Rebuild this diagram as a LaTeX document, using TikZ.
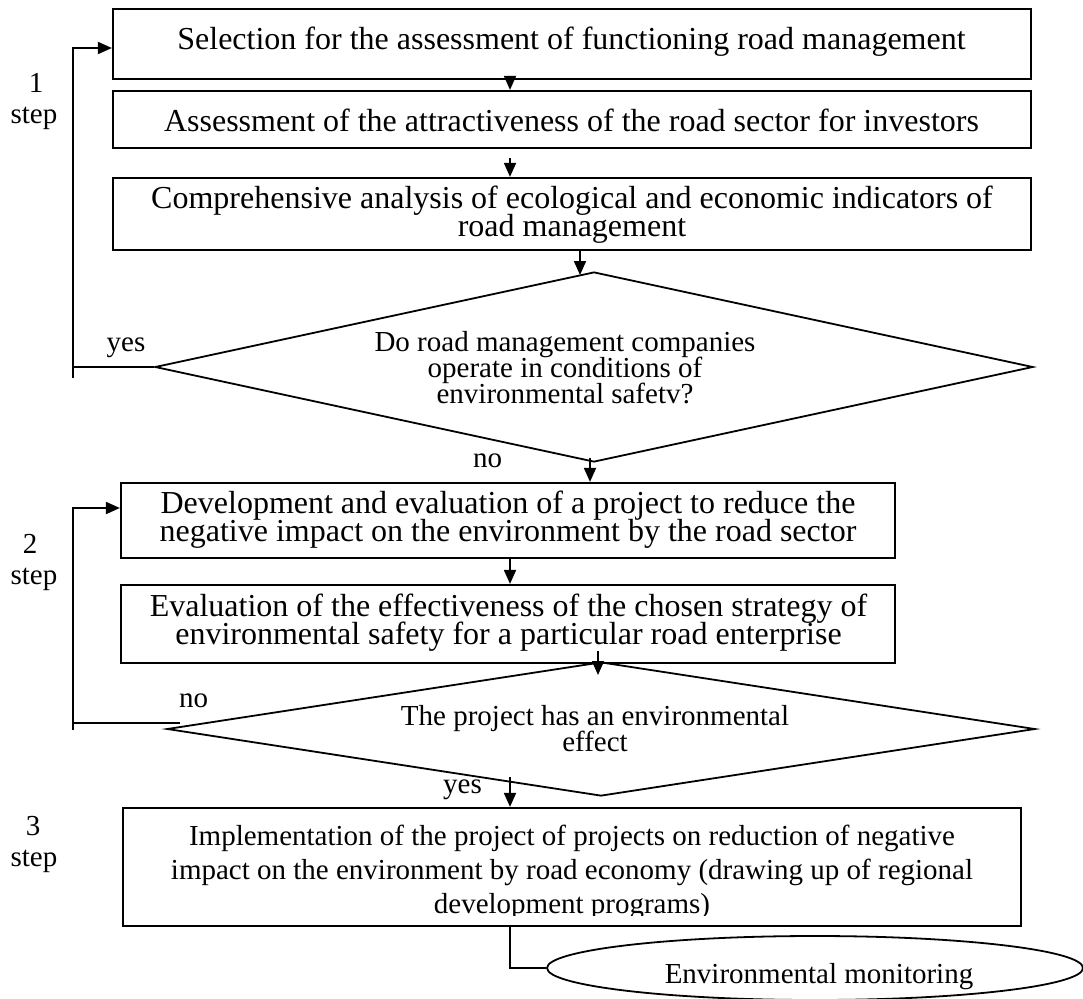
\documentclass[tikz,border=0pt]{standalone}
\usepackage{fontspec}
\setmainfont{Liberation Serif}
\usetikzlibrary{shapes.geometric,arrows.meta}
\begin{document}
\begin{tikzpicture}[x=1pt,y=-1pt,
  box/.style={draw, line width=2.2pt, inner sep=0pt},
  diam/.style={draw, diamond, line width=1.8pt, inner sep=0pt},
  oval/.style={draw, ellipse, line width=1.8pt, inner sep=0pt},
  bigtext/.style={anchor=base, align=center, inner sep=0pt,
    font={\fontsize{32}{28}\selectfont\lineskiplimit=-100pt\lineskip=0pt}},
  midtext/.style={anchor=base, align=center, inner sep=0pt,
    font={\fontsize{29}{26}\selectfont\lineskiplimit=-100pt\lineskip=0pt}},
  lbl/.style={anchor=base, inner sep=0pt, font={\fontsize{29}{30}\selectfont}},
  ln/.style={line width=1.8pt},
  arr/.style={line width=1.8pt, -{Triangle[length=14pt,width=12pt]}}
]
\clip (0,0) rectangle (1083,998);
\fill[white] (0,0) rectangle (1083,998);

% column helpers
\coordinate (c510) at (510,0);
\coordinate (c580) at (580,0);
\coordinate (c590) at (590,0);
\coordinate (c598) at (598,0);
\coordinate (c73) at (73,0);

% boxes
\node[box, minimum width=918pt, minimum height=70pt] (b1) at (572,44) {};
\node[box, minimum width=918pt, minimum height=57pt] (b2) at (572,119.5) {};
\node[box, minimum width=918pt, minimum height=72pt] (b3) at (572,214) {};
\node[box, minimum width=774pt, minimum height=75pt] (b4) at (508,520.5) {};
\node[box, minimum width=774pt, minimum height=78pt] (b5) at (508,624) {};
\node[box, minimum width=898pt, minimum height=118pt] (b6) at (572,867) {};

% box texts (base = baseline of the last line)
\node[bigtext] (t1) at (571.5,50) {Selection for the assessment of functioning road management};
\node[bigtext] (t2) at (571.5,131) {Assessment of the attractiveness of the road sector for investors};
\node[bigtext] (t3) at (572,236) {Comprehensive analysis of ecological and economic indicators of\\road management};
\node[bigtext] (t4) at (508,541) {Development and evaluation of a project to reduce the\\negative impact on the environment by the road sector};
\node[bigtext] (t5) at (508.5,644) {Evaluation of the effectiveness of the chosen strategy of\\environmental safety for a particular road enterprise};
\begin{scope}
\clip (123,808) rectangle (1021,915);
\node[anchor=base, align=center, inner sep=0pt,
  font={\fontsize{29}{34}\selectfont\lineskiplimit=-100pt\lineskip=0pt}] (t6) at (572,913)
  {Implementation of the project of projects on reduction of negative\\impact on the environment by road economy (drawing up of regional\\development programs)};
\end{scope}

% diamonds
\node[diam, minimum width=878pt, minimum height=190pt] (d1) at (594,367) {};
\node[midtext] (d1t) at (565,403) {Do road management companies\\operate in conditions of\\environmental safetv?};
\node[diam, minimum width=868pt, minimum height=134pt] (d2) at (601,729) {};
\node[midtext] (d2t) at (595,751) {The project has an environmental\\effect};

% ellipse
\node[oval, minimum width=536pt, minimum height=64pt] (em) at (815,968) {};
\node[lbl] (emt) at (819,983) {Environmental monitoring};

% labels
\node[lbl] (yes1) at (126,351) {yes};
\node[lbl] (no1) at (487.5,467) {no};
\node[lbl] (no2) at (193.5,707) {no};
\node[lbl] (yes2) at (462.5,793) {yes};
\node[lbl] (s1n) at (36,92) {1};
\node[lbl] (s1s) at (34,123) {step};
\node[lbl] (s2n) at (30,553) {2};
\node[lbl] (s2s) at (34,584) {step};
\node[lbl] (s3n) at (33,835) {3};
\node[lbl] (s3s) at (34,866) {step};

% main flow arrows
\draw[arr] (b1.south -| c510) ++(0,-4) -- (b2.north -| c510);
\draw[arr] (b2.south -| c510) ++(0,9) -- (b3.north -| c510);
\draw[arr] (b3.south -| c580) -- (580,275);
\draw[arr] (d1.south -| c590) ++(0,-5) -- (b4.north -| c590);
\draw[arr] (b4.south -| c510) -- (b5.north -| c510);
\draw[arr] (b5.south -| c598) ++(0,-13) -- (598,675);
\draw[arr] (b6.north -| c510) ++(0,-30) -- (b6.north -| c510);
\draw[ln] (b6.south -| c510) |- (em.west);

% feedback loop 1
\coordinate (l1b) at (73,378);
\coordinate (l1t) at (73,48);
\draw[ln] (d1.west) -- (d1.west -| c73);
\draw[arr] (l1b) -- (l1t) -- (b1.west |- l1t);

% feedback loop 2
\coordinate (l2b) at (73,730);
\coordinate (l2t) at (73,508);
\coordinate (n2) at (180,723);
\draw[ln] (n2) -- (n2 -| c73);
\draw[arr] (l2b) -- (l2t) -- (b4.west |- l2t);
\end{tikzpicture}
\end{document}
